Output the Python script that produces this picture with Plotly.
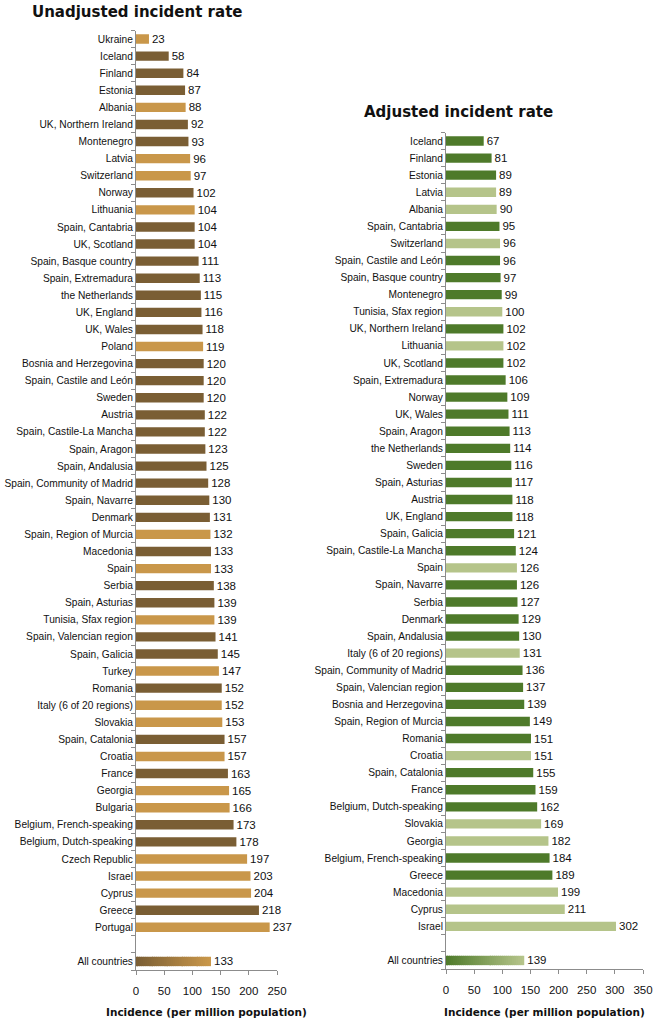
import plotly.graph_objects as go

# ---------------- data ----------------
unadj_countries = [
    "Ukraine", "Iceland", "Finland", "Estonia", "Albania", "UK, Northern Ireland",
    "Montenegro", "Latvia", "Switzerland", "Norway", "Lithuania", "Spain, Cantabria",
    "UK, Scotland", "Spain, Basque country", "Spain, Extremadura", "the Netherlands",
    "UK, England", "UK, Wales", "Poland", "Bosnia and Herzegovina",
    "Spain, Castile and León", "Sweden", "Austria", "Spain, Castile-La Mancha",
    "Spain, Aragon", "Spain, Andalusia", "Spain, Community of Madrid", "Spain, Navarre",
    "Denmark", "Spain, Region of Murcia", "Macedonia", "Spain", "Serbia",
    "Spain, Asturias", "Tunisia, Sfax region", "Spain, Valencian region",
    "Spain, Galicia", "Turkey", "Romania", "Italy (6 of 20 regions)", "Slovakia",
    "Spain, Catalonia", "Croatia", "France", "Georgia", "Bulgaria",
    "Belgium, French-speaking", "Belgium, Dutch-speaking", "Czech Republic",
    "Israel", "Cyprus", "Greece", "Portugal",
]
unadj_values = [
    23, 58, 84, 87, 88, 92, 93, 96, 97, 102, 104, 104, 104, 111, 113, 115, 116, 118,
    119, 120, 120, 120, 122, 122, 123, 125, 128, 130, 131, 132, 133, 133, 138, 139,
    139, 141, 145, 147, 152, 152, 153, 157, 157, 163, 165, 166, 173, 178, 197, 203,
    204, 218, 237,
]
# 1 = light bar, 0 = dark bar
unadj_light = [
    1, 0, 0, 0, 1, 0, 0, 1, 1, 0, 1, 0, 0, 0, 0, 0, 0, 0, 1, 0, 0, 0, 0, 0, 0, 0, 0,
    0, 0, 1, 0, 1, 0, 0, 1, 0, 0, 1, 0, 1, 1, 0, 1, 0, 1, 1, 0, 0, 1, 1, 1, 0, 1,
]
unadj_all = 133

adj_countries = [
    "Iceland", "Finland", "Estonia", "Latvia", "Albania", "Spain, Cantabria",
    "Switzerland", "Spain, Castile and León", "Spain, Basque country", "Montenegro",
    "Tunisia, Sfax region", "UK, Northern Ireland", "Lithuania", "UK, Scotland",
    "Spain, Extremadura", "Norway", "UK, Wales", "Spain, Aragon", "the Netherlands",
    "Sweden", "Spain, Asturias", "Austria", "UK, England", "Spain, Galicia",
    "Spain, Castile-La Mancha", "Spain", "Spain, Navarre", "Serbia", "Denmark",
    "Spain, Andalusia", "Italy (6 of 20 regions)", "Spain, Community of Madrid",
    "Spain, Valencian region", "Bosnia and Herzegovina", "Spain, Region of Murcia",
    "Romania", "Croatia", "Spain, Catalonia", "France", "Belgium, Dutch-speaking",
    "Slovakia", "Georgia", "Belgium, French-speaking", "Greece", "Macedonia",
    "Cyprus", "Israel",
]
adj_values = [
    67, 81, 89, 89, 90, 95, 96, 96, 97, 99, 100, 102, 102, 102, 106, 109, 111, 113,
    114, 116, 117, 118, 118, 121, 124, 126, 126, 127, 129, 130, 131, 136, 137, 139,
    149, 151, 151, 155, 159, 162, 169, 182, 184, 189, 199, 211, 302,
]
adj_light = [
    0, 0, 0, 1, 1, 0, 1, 0, 0, 0, 1, 0, 1, 0, 0, 0, 0, 0, 0, 0, 0, 0, 0, 0, 0, 1, 0,
    0, 0, 0, 1, 0, 0, 0, 0, 0, 1, 0, 0, 0, 1, 1, 0, 0, 1, 1, 1,
]
adj_all = 139

unadj_ticks = [0, 50, 100, 150, 200, 250]
adj_ticks = [0, 50, 100, 150, 200, 250, 300, 350]

# ---------------- style ----------------
BROWN_DARK = (122, 94, 52)
BROWN_LIGHT = (201, 151, 74)
GREEN_DARK = (78, 122, 42)
GREEN_LIGHT = (181, 196, 138)
AXIS_COL = "#8c8c8c"
LABEL_FONT = "Liberation Sans, Arial, sans-serif"
TITLE_FONT = "DejaVu Sans, Verdana, sans-serif"
GAP = " "
ALL = "All countries"
N_GRAD = 40
H = 1023.0
W = 655.0


def rgb(c):
    return "rgb(%d,%d,%d)" % c


def mix(a, b, t):
    return tuple(round(a[i] + (b[i] - a[i]) * t) for i in range(3))


fig = go.Figure()


def add_panel(countries, values, light, all_val, dark_c, light_c, xa, ya):
    cats = countries + [GAP, ALL]
    colors = [rgb(light_c) if l else rgb(dark_c) for l in light]
    fig.add_trace(go.Bar(
        x=values, y=countries, orientation="h",
        marker=dict(color=colors, line=dict(width=0)),
        text=[str(v) for v in values], textposition="outside",
        constraintext="none",
        textfont=dict(family=LABEL_FONT, size=11.5, color="#111"),
        cliponaxis=False, xaxis=xa, yaxis=ya, showlegend=False,
        hoverinfo="x+y",
    ))
    # gradient "All countries" bar built from stacked slices of the value
    seg = all_val / N_GRAD
    for k in range(N_GRAD):
        t = k / (N_GRAD - 1)
        fig.add_trace(go.Bar(
            x=[seg], y=[ALL], base=[seg * k], orientation="h",
            marker=dict(color=rgb(mix(dark_c, light_c, t)), line=dict(width=0)),
            xaxis=xa, yaxis=ya, showlegend=False, hoverinfo="skip",
        ))
    fig.add_trace(go.Bar(
        x=[all_val], y=[ALL], orientation="h",
        marker=dict(color="rgba(0,0,0,0)", line=dict(width=0)),
        text=[str(all_val)], textposition="outside", constraintext="none",
        textfont=dict(family=LABEL_FONT, size=11.5, color="#111"),
        cliponaxis=False, xaxis=xa, yaxis=ya, showlegend=False, hoverinfo="skip",
    ))
    return cats


cats_l = add_panel(unadj_countries, unadj_values, unadj_light, unadj_all,
                   BROWN_DARK, BROWN_LIGHT, "x", "y")
cats_r = add_panel(adj_countries, adj_values, adj_light, adj_all,
                   GREEN_DARK, GREEN_LIGHT, "x2", "y2")


def xaxis(dom, ticks, anchor):
    return dict(
        domain=dom, range=[0, ticks[-1]], tickvals=ticks, anchor=anchor,
        showgrid=False, zeroline=False, showline=True, linecolor=AXIS_COL,
        linewidth=1, ticks="outside", ticklen=4, tickcolor=AXIS_COL,
        ticklabelstandoff=6,
        tickfont=dict(family=LABEL_FONT, size=11.5, color="#111"),
        automargin=False, fixedrange=True,
    )


def yaxis(dom, cats, anchor):
    return dict(
        domain=dom, type="category", categoryorder="array",
        categoryarray=cats[::-1], range=[-0.5, len(cats) - 0.5],
        anchor=anchor, showgrid=False, zeroline=False, showline=True,
        linecolor=AXIS_COL, linewidth=1, ticks="outside", ticklen=4,
        tickcolor=AXIS_COL, tickson="boundaries",
        tickfont=dict(family=LABEL_FONT, size=10.2, color="#111"),
        automargin=False, fixedrange=True,
    )


def note(text, x, y, size):
    return dict(text=text, x=x / W, y=1 - y / H, xref="paper", yref="paper",
                showarrow=False, xanchor="center", yanchor="middle",
                font=dict(family=TITLE_FONT, size=size, color="#111"))


fig.update_layout(
    width=655, height=1023,
    margin=dict(l=0, r=0, t=0, b=0),
    paper_bgcolor="white", plot_bgcolor="white",
    barmode="overlay", bargap=0.45,
    xaxis=xaxis([136 / W, 277 / W], unadj_ticks, "y"),
    yaxis=yaxis([1 - 970 / H, 1 - 30.5 / H], cats_l, "x"),
    xaxis2=xaxis([446 / W, 643 / W], adj_ticks, "y2"),
    yaxis2=yaxis([1 - 969 / H, 1 - 132.5 / H], cats_r, "x2"),
    annotations=[
        note("<b>Unadjusted incident rate</b>", 137, 12, 15),
        note("<b>Adjusted incident rate</b>", 458, 112, 15),
        note("<b>Incidence (per million population)</b>", 206, 1012, 10.5),
        note("<b>Incidence (per million population)</b>", 544, 1012, 10.5),
    ],
)

fig.write_html("out.html", config={"displayModeBar": False},
               post_script="document.body.style.margin='0';")
